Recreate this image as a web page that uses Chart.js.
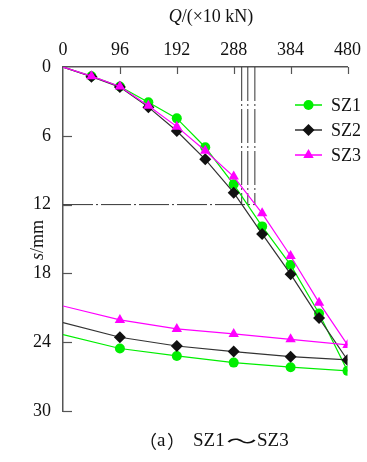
<!DOCTYPE html>
<html>
<head>
<meta charset="utf-8">
<script src="https://cdn.jsdelivr.net/npm/chart.js@4.4.0/dist/chart.umd.min.js"></script>
<style>
html, body { margin: 0; padding: 0; background: #fff; }
</style>
</head>
<body>
<canvas id="load-settlement" width="367" height="462"></canvas>
<script>
// load steps (x10 kN): loading 0..480 then unloading back to 0
const loads = [0, 48, 96, 144, 192, 240, 288, 336, 384, 432, 480, 384, 288, 192, 96, 0];
const sz1 = [0, 0.8, 1.7, 3.08, 4.48, 7.0, 10.23, 13.9, 17.26, 21.5, 26.5, 26.18, 25.78, 25.2, 24.55, 23.34];
const sz2 = [0, 0.85, 1.75, 3.5, 5.58, 8.05, 10.96, 14.56, 18.07, 21.9, 25.55, 25.26, 24.82, 24.33, 23.57, 22.29];
const sz3 = [0, 0.8, 1.7, 3.38, 5.2, 7.3, 9.56, 12.76, 16.48, 20.55, 24.24, 23.75, 23.28, 22.84, 22.06, 20.84];
const seriesNames = ['SZ1', 'SZ2', 'SZ3'];
const xTicks = [0, 96, 192, 288, 384, 480];
const yTicks = [0, 6, 12, 18, 24, 30];

// dash-dot guide: s = 12 mm and the loads where each curve reaches it
const guideS = 12;
const guideLoads = [301.5, 311.8, 323.7];

const serif = '"Liberation Serif", "Times New Roman", serif';
const cjk = '"Noto Sans CJK SC"';
const textColor = '#111';

function toPoints(vals) {
    return loads.map((q, i) => ({ x: q, y: vals[i] }));
}

function radii(r) {
    // no marker at the origin and at the end of unloading
    return loads.map((q, i) => (i === 0 || i === loads.length - 1) ? 0 : r);
}

const styles = [
    { color: '#00ee00', point: 'circle', r: 5 },
    { color: '#111111', point: 'rectRot', r: 6 },
    { color: '#ff00ff', point: 'triangle', r: 6 }
];

const datasets = [sz1, sz2, sz3].map((vals, i) => ({
    label: seriesNames[i],
    data: toPoints(vals),
    borderColor: i === 1 ? '#333' : styles[i].color,
    backgroundColor: styles[i].color,
    pointBackgroundColor: styles[i].color,
    pointBorderColor: styles[i].color,
    pointBorderWidth: 0,
    pointStyle: styles[i].point,
    pointRadius: radii(styles[i].r),
    borderWidth: 1.2,
    tension: 0,
    order: 2 - i
}));

guideLoads.forEach(q => {
    datasets.push({
        label: '',
        data: [{ x: q, y: 0 }, { x: q, y: guideS }],
        borderColor: '#333',
        borderWidth: 1,
        borderDash: [34, 3, 2, 3],
        pointRadius: 0,
        order: 10
    });
});
datasets.push({
    label: '',
    data: [{ x: 0, y: guideS }, { x: Math.max(...guideLoads), y: guideS }],
    borderColor: '#333',
    borderWidth: 1,
    borderDash: [30, 3, 2, 3],
    pointRadius: 0,
    order: 10
});

function marker(ctx, style, x, y, r, color) {
    ctx.save();
    ctx.fillStyle = color;
    ctx.beginPath();
    if (style === 'circle') {
        ctx.arc(x, y, r, 0, Math.PI * 2);
    } else if (style === 'rectRot') {
        ctx.moveTo(x, y - r); ctx.lineTo(x + r, y); ctx.lineTo(x, y + r); ctx.lineTo(x - r, y);
    } else {
        ctx.moveTo(x, y - r); ctx.lineTo(x + r * 0.87, y + r * 0.5); ctx.lineTo(x - r * 0.87, y + r * 0.5);
    }
    ctx.closePath();
    ctx.fill();
    ctx.restore();
}

const decorations = {
    id: 'decorations',
    afterDraw(chart) {
        const ctx = chart.ctx;
        const xs = chart.scales.x, ys = chart.scales.y;
        const area = chart.chartArea;

        // inward tick marks
        ctx.save();
        ctx.strokeStyle = '#555';
        ctx.lineWidth = 1.2;
        xTicks.slice(1).forEach(v => {
            const px = Math.round(xs.getPixelForValue(v)) + 0.5;
            ctx.beginPath(); ctx.moveTo(px, area.top); ctx.lineTo(px, area.top + 7); ctx.stroke();
        });
        yTicks.slice(1).forEach(v => {
            const py = Math.round(ys.getPixelForValue(v)) + 0.5;
            ctx.beginPath(); ctx.moveTo(area.left, py); ctx.lineTo(area.left + 9, py); ctx.stroke();
        });
        ctx.restore();

        // legend
        ctx.save();
        ctx.font = '18px ' + serif;
        ctx.textBaseline = 'middle';
        seriesNames.forEach((name, i) => {
            const y = 105 + i * 25;
            ctx.strokeStyle = i === 1 ? '#333' : styles[i].color;
            ctx.lineWidth = 1.5;
            ctx.beginPath(); ctx.moveTo(295, y); ctx.lineTo(322, y); ctx.stroke();
            marker(ctx, styles[i].point, 308.5, y, styles[i].r, styles[i].color);
            ctx.fillStyle = textColor;
            ctx.fillText(name, 331, y + 1);
        });
        ctx.restore();

        // axis titles with italic symbols
        ctx.save();
        ctx.fillStyle = textColor;
        ctx.textBaseline = 'middle';
        const qPart = 'Q', rest = '/(×10 kN)';
        ctx.font = 'italic 18px ' + serif;
        const wq = ctx.measureText(qPart).width;
        ctx.font = '18px ' + serif;
        const wr = ctx.measureText(rest).width;
        let x0 = 211 - (wq + wr) / 2;
        ctx.font = 'italic 18px ' + serif;
        ctx.fillText(qPart, x0, 17);
        ctx.font = '18px ' + serif;
        ctx.fillText(rest, x0 + wq, 17);

        ctx.translate(38, 240);
        ctx.rotate(-Math.PI / 2);
        ctx.font = 'italic 18px ' + serif;
        const ws = ctx.measureText('s').width;
        ctx.font = '18px ' + serif;
        const wm = ctx.measureText('/mm').width;
        x0 = -(ws + wm) / 2;
        ctx.font = 'italic 18px ' + serif;
        ctx.fillText('s', x0, 0);
        ctx.font = '18px ' + serif;
        ctx.fillText('/mm', x0 + ws, 0);
        ctx.restore();

        // caption: （a）SZ1～SZ3
        ctx.save();
        ctx.fillStyle = textColor;
        ctx.textBaseline = 'middle';
        ctx.textAlign = 'left';
        const cy = 441;
        ctx.font = '18px ' + cjk;
        ctx.fillText('（', 139, cy);
        ctx.fillText('）', 167, cy);
        ctx.font = '19px ' + serif;
        ctx.fillText('a', 157, cy);
        ctx.fillText('SZ1', 193, cy);
        ctx.fillText('SZ3', 257, cy);
        // wide full-width tilde
        ctx.translate(241.5, cy);
        ctx.scale(1.7, 1);
        ctx.font = '18px ' + cjk;
        ctx.textAlign = 'center';
        ctx.fillText('～', 0, 0);
        ctx.restore();
    }
};

new Chart(document.getElementById('load-settlement'), {
    type: 'line',
    data: { datasets: datasets },
    options: {
        responsive: false,
        animation: false,
        devicePixelRatio: 1,
        layout: { padding: { left: 0, top: 0, right: 10, bottom: 51 } },
        plugins: {
            legend: { display: false },
            tooltip: { enabled: false }
        },
        scales: {
            x: {
                type: 'linear',
                position: 'top',
                min: 0,
                max: 480,
                afterBuildTicks: s => { s.ticks = xTicks.map(v => ({ value: v })); },
                afterFit: s => { s.height = 67; },
                ticks: { color: textColor, font: { family: serif, size: 18 }, padding: 6, maxRotation: 0 },
                grid: { drawOnChartArea: false, drawTicks: false },
                border: { color: '#555', width: 1.5 }
            },
            y: {
                type: 'linear',
                reverse: true,
                min: 0,
                max: 30,
                afterBuildTicks: s => { s.ticks = yTicks.map(v => ({ value: v })); },
                afterFit: s => { s.width = 63; },
                ticks: { color: textColor, font: { family: serif, size: 18 }, padding: 12 },
                grid: { drawOnChartArea: false, drawTicks: false },
                border: { color: '#555', width: 1.5 }
            }
        }
    },
    plugins: [decorations]
});
</script>
</body>
</html>
